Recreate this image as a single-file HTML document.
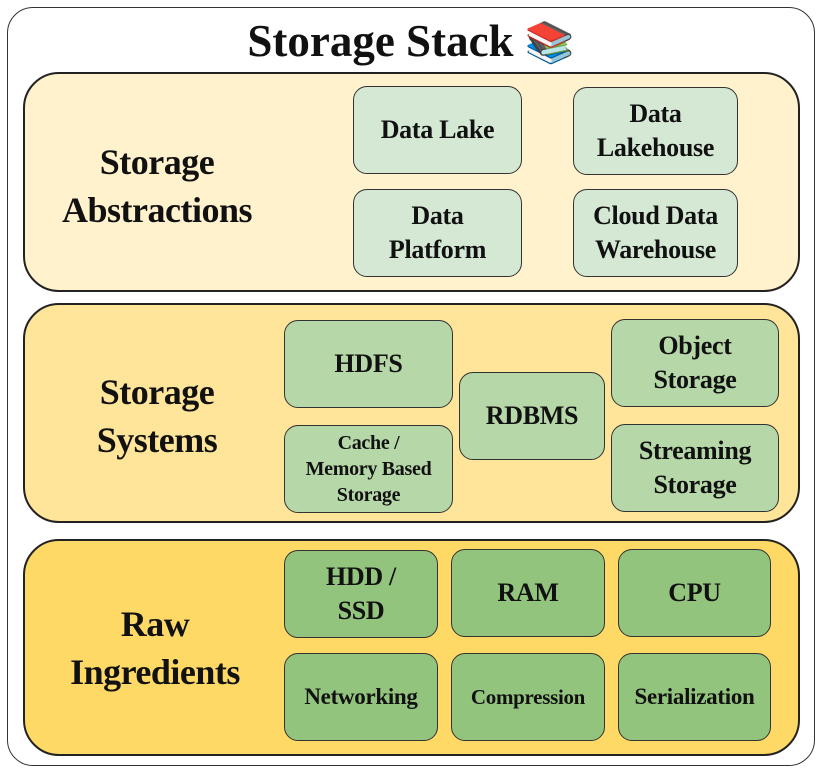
<!DOCTYPE html>
<html><head><meta charset="utf-8"><style>
body{margin:0;width:822px;height:773px;background:#fff;position:relative;font-family:"Liberation Serif",serif;font-weight:bold;color:#111;overflow:hidden}
div{position:absolute;box-sizing:border-box}
.o{left:7px;top:7px;width:808px;height:759px;border:1.5px solid #333;border-radius:26px}
.t{left:0;width:822px;top:14px;text-align:center;font-size:45px;line-height:54px}
.l{left:23px;width:777px;border:2px solid #222;border-radius:36px}
.lab{font-size:36px;line-height:48px;text-align:center;width:270px;display:flex;align-items:center;justify-content:center;letter-spacing:-0.5px}
.b{border:1.5px solid #333;border-radius:14px;display:flex;align-items:center;justify-content:center;text-align:center;font-size:26px;line-height:34px;letter-spacing:-0.3px}
.g1{background:#d5e8d4}.g2{background:#b6d7a8}.g3{background:#93c47d}
</style></head><body>
<div class="o"></div>
<div class="t">Storage Stack <span style="font-family:'Noto Color Emoji','DejaVu Sans',sans-serif;font-size:40px">📚</span></div>

<div class="l" style="top:72px;height:220px;background:#fff2cc"></div>
<div class="lab" style="left:22px;top:136px;height:100px">Storage<br>Abstractions</div>
<div class="b g1" style="left:353px;top:86px;width:169px;height:88px">Data Lake</div>
<div class="b g1" style="left:573px;top:87px;width:165px;height:88px">Data<br>Lakehouse</div>
<div class="b g1" style="left:353px;top:189px;width:169px;height:88px">Data<br>Platform</div>
<div class="b g1" style="left:573px;top:189px;width:165px;height:88px">Cloud Data<br>Warehouse</div>

<div class="l" style="top:303px;height:220px;background:#ffe599"></div>
<div class="lab" style="left:22px;top:366px;height:100px">Storage<br>Systems</div>
<div class="b g2" style="left:284px;top:320px;width:169px;height:88px">HDFS</div>
<div class="b g2" style="left:284px;top:425px;width:169px;height:88px;font-size:20px;line-height:26px">Cache /<br>Memory Based<br>Storage</div>
<div class="b g2" style="left:459px;top:372px;width:146px;height:88px">RDBMS</div>
<div class="b g2" style="left:611px;top:319px;width:168px;height:88px">Object<br>Storage</div>
<div class="b g2" style="left:611px;top:424px;width:168px;height:88px">Streaming<br>Storage</div>

<div class="l" style="top:539px;height:217px;background:#ffd966"></div>
<div class="lab" style="left:20px;top:598px;height:100px">Raw<br>Ingredients</div>
<div class="b g3" style="left:284px;top:550px;width:154px;height:88px">HDD /<br>SSD</div>
<div class="b g3" style="left:451px;top:549px;width:154px;height:88px">RAM</div>
<div class="b g3" style="left:618px;top:549px;width:153px;height:88px">CPU</div>
<div class="b g3" style="left:284px;top:653px;width:154px;height:88px;font-size:23px">Networking</div>
<div class="b g3" style="left:451px;top:653px;width:154px;height:88px;font-size:21px">Compression</div>
<div class="b g3" style="left:618px;top:653px;width:153px;height:88px;font-size:23px">Serialization</div>
</body></html>
